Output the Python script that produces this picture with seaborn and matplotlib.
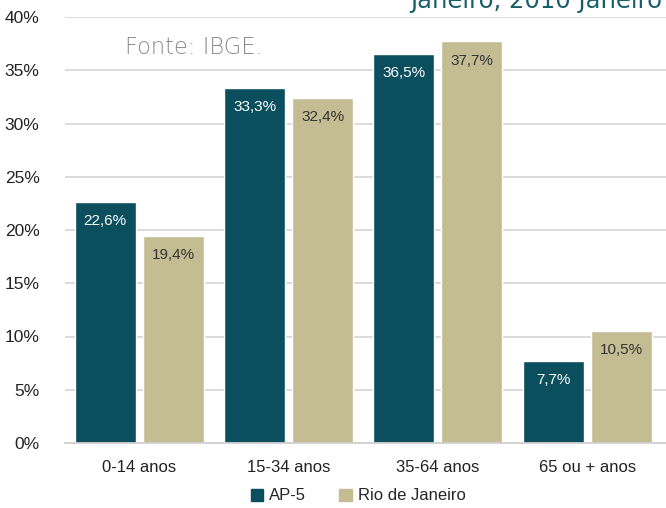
import pandas as pd
import matplotlib.pyplot as plt
import seaborn as sns

# dados
faixas = ['0-14 anos', '15-34 anos', '35-64 anos', '65 ou + anos']
ap5 = [22.6, 33.3, 36.5, 7.7]
rio = [19.4, 32.4, 37.7, 10.5]
series = ['AP-5', 'Rio de Janeiro']
cores = ['#0B4F5E', '#C4BC92']

df = pd.DataFrame({
    'faixa': faixas * 2,
    'valor': ap5 + rio,
    'serie': [series[0]] * 4 + [series[1]] * 4,
})

sns.set_style('white')
plt.rcParams['font.family'] = ['Liberation Sans', 'DejaVu Sans']

fig = plt.figure(figsize=(6.66, 5.08), dpi=100)
ax = fig.add_axes([64.5 / 666, 65 / 508, 601.5 / 666, 426 / 508])

sns.barplot(data=df, x='faixa', y='valor', hue='serie', palette=cores,
            width=0.911, gap=0.103, saturation=1, ax=ax, legend=False)

ax.set_ylim(0, 40)
ax.set_xlim(-0.5, 3.5 + 4 / 149.3)
ax.set_yticks(range(0, 41, 5))
ax.set_yticklabels([f'{v}%' for v in range(0, 41, 5)])
ax.yaxis.grid(True, color='#d9d9d9', linewidth=1.3)
ax.set_axisbelow(True)
for s in ['top', 'right', 'left']:
    ax.spines[s].set_visible(False)
ax.spines['bottom'].set_color('#d0d0d0')
ax.spines['bottom'].set_linewidth(1.3)
ax.tick_params(axis='both', length=0, colors='#222222')
ax.tick_params(axis='y', labelsize=12.5, pad=18)
ax.tick_params(axis='x', labelsize=12, pad=12)
ax.set_xlabel('')
ax.set_ylabel('')

# rotulos nas barras
for cont, cor in zip(ax.containers, ['white', '#333333']):
    labels = [f'{v:.1f}%'.replace('.', ',') for v in cont.datavalues]
    for bar, lab in zip(cont, labels):
        ax.annotate(lab, (bar.get_x() + bar.get_width() / 2, bar.get_height()),
                    xytext=(0, -13.7), textcoords='offset points',
                    ha='center', va='center', color=cor, fontsize=11)

# fonte e titulo cortado
fig.text(125 / 666, 1 - 48 / 508, 'Fonte: IBGE.', fontsize=16.3, color='#8a8a8a',
         family=['DejaVu Sans'], va='center', fontweight='light')
fig.text(662 / 666, 1 - 8 / 508, 'Janeiro, 2010 Janeiro', fontsize=17.5,
         color='#1B5E6B', family=['DejaVu Sans'], ha='right', va='baseline')

# legenda
handles = [plt.Rectangle((0, 0), 1, 1, color=c) for c in cores]
fig.legend(handles, series, loc='center', bbox_to_anchor=(358 / 666, 1 - 496 / 508),
           ncol=2, frameon=False, fontsize=12, handlelength=0.75, handleheight=0.75,
           handletextpad=0.35, columnspacing=2.0)

fig.savefig('out.png', dpi=100)
